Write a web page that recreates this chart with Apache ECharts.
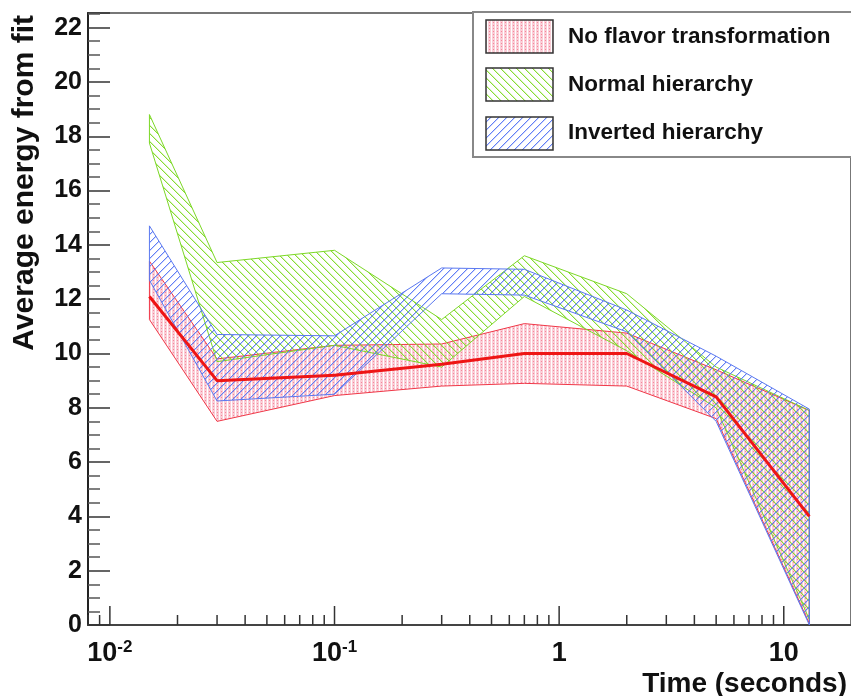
<!DOCTYPE html>
<html><head><meta charset="utf-8">
<script src="https://cdn.jsdelivr.net/npm/echarts@6/dist/echarts.min.js"></script>
<style>html,body{margin:0;padding:0;background:#fff}#c{width:851px;height:696px}</style>
</head><body><div id="c"></div>
<script>
// ---- data ----
const times = [0.015, 0.03, 0.1, 0.3, 0.7, 2, 5, 13];
const noFlavorMean  = [12.1, 9.0, 9.2, 9.6, 10.0, 10.0, 8.4, 4.0];
const noFlavorUpper = [13.4, 9.8, 10.3, 10.35, 11.1, 10.75, 9.4, 7.9];
const noFlavorLower = [11.25, 7.5, 8.45, 8.8, 8.9, 8.8, 7.6, 0.05];
const normalUpper   = [18.8, 13.35, 13.8, 11.25, 13.6, 12.2, 9.5, 7.9];
const normalLower   = [17.75, 9.7, 10.3, 9.5, 12.1, 10.1, 8.0, 0.2];
const invertedUpper = [14.7, 10.7, 10.65, 13.15, 13.1, 11.6, 9.9, 7.95];
const invertedLower = [12.7, 8.25, 8.5, 12.2, 12.15, 10.8, 7.5, 0.0];
const legendNames = ['No flavor transformation', 'Normal hierarchy', 'Inverted hierarchy'];
const xMajorTicks = [0.01, 0.1, 1, 10];
const xMajorLabels = [['10', '-2'], ['10', '-1'], ['1', ''], ['10', '']];
const xMinorTicks = [0.008, 0.009, 0.02, 0.03, 0.04, 0.05, 0.06, 0.07, 0.08, 0.09,
  0.2, 0.3, 0.4, 0.5, 0.6, 0.7, 0.8, 0.9, 2, 3, 4, 5, 6, 7, 8, 9];
const xTitle = 'Time (seconds)';
const yTitle = 'Average energy from fit';

// ---- styles ----
const FONT = '"Liberation Sans", Arial, Helvetica, sans-serif';
function hatch(rgb, dir, size) {
  const c = document.createElement('canvas'); c.width = size; c.height = size;
  const g = c.getContext('2d');
  for (let i = 0; i < size; i++) {
    const x = dir === 'down' ? i : size - 1 - i;
    g.fillStyle = 'rgba(' + rgb + ',0.95)';
    g.fillRect(x, i, 1, 1);
    g.fillStyle = 'rgba(' + rgb + ',0.3)';
    g.fillRect((x + 1) % size, i, 1, 1);
  }
  return c;
}
function dotted() {
  const c = document.createElement('canvas'); c.width = 4; c.height = 3;
  const g = c.getContext('2d');
  g.fillStyle = 'rgba(248,165,182,0.55)'; g.fillRect(0, 0, 3, 3);
  g.fillStyle = 'rgba(240,90,115,0.6)'; g.fillRect(1, 1, 1, 1);
  return c;
}
const redPat = dotted();
const greenPat = hatch('130,218,40', 'down', 8);
const bluePat = hatch('88,120,246', 'up', 8);
const pat = (img) => ({ image: img, repeat: 'repeat' });

function band(name, upper, lower, img, stroke, z) {
  return {
    type: 'custom', name: name, z: z, silent: true, animation: false,
    coordinateSystem: 'cartesian2d',
    data: [[times[0], upper[0]]],
    renderItem: function (params, api) {
      const pts = [];
      for (let i = 0; i < times.length; i++) pts.push(api.coord([times[i], upper[i]]));
      for (let i = times.length - 1; i >= 0; i--) pts.push(api.coord([times[i], lower[i]]));
      return { type: 'polygon', shape: { points: pts },
        style: { fill: pat(img), stroke: stroke, lineWidth: 1 } };
    }
  };
}

const tickData = xMinorTicks.map(v => [v, 0, 0]).concat(xMajorTicks.map(v => [v, 0, 1]));

const chart = echarts.init(document.getElementById('c'), null, { renderer: 'canvas' });
chart.setOption({
  animation: false,
  backgroundColor: '#fff',
  grid: { left: 88, right: -3, top: 13, bottom: 71, show: true, borderColor: '#777', borderWidth: 2, backgroundColor: 'transparent' },
  xAxis: {
    type: 'log', logBase: 10, min: 0.007991, max: 19.92,
    axisLine: { lineStyle: { color: '#444', width: 2 } },
    axisTick: { show: false }, minorTick: { show: false },
    splitLine: { show: false }, minorSplitLine: { show: false },
    axisLabel: {
      margin: 14, showMinLabel: false, showMaxLabel: false,
      formatter: function (v) {
        for (let i = 0; i < xMajorTicks.length; i++) {
          if (Math.abs(Math.log10(v) - Math.log10(xMajorTicks[i])) < 1e-6) {
            const l = xMajorLabels[i];
            return l[1] ? '{b|' + l[0] + '}{s|' + l[1] + '}' : '{b|' + l[0] + '}';
          }
        }
        return '';
      },
      rich: {
        b: { fontSize: 27, fontWeight: 'bold', fontFamily: FONT, color: '#111', lineHeight: 30 },
        s: { fontSize: 17, fontWeight: 'bold', fontFamily: FONT, color: '#111', lineHeight: 17, verticalAlign: 'top' }
      }
    }
  },
  yAxis: {
    type: 'value', min: 0, max: 22.54, interval: 2,
    axisLine: { show: true, lineStyle: { color: '#222', width: 2 } },
    axisTick: { show: true, inside: true, length: 22, lineStyle: { color: '#333', width: 1.5 } },
    minorTick: { show: true, splitNumber: 4, length: 12, lineStyle: { color: '#555', width: 1.5 } },
    splitLine: { show: false },
    axisLabel: {
      margin: 6, showMaxLabel: false, fontSize: 25, fontWeight: 'bold', fontFamily: FONT, color: '#111',
      formatter: function (v) {
        const r = Math.round(v);
        return (Math.abs(v - r) < 1e-6 && r % 2 === 0) ? String(r) : '';
      }
    }
  },
  series: [
    band(legendNames[0], noFlavorUpper, noFlavorLower, redPat, '#f03848', 2),
    band(legendNames[1], normalUpper, normalLower, greenPat, '#7cd826', 3),
    band(legendNames[2], invertedUpper, invertedLower, bluePat, '#5a78f0', 4),
    {
      type: 'line', name: 'mean', z: 6, silent: true, animation: false,
      data: times.map((t, i) => [t, noFlavorMean[i]]),
      showSymbol: false, symbol: 'none',
      lineStyle: { color: '#ee1515', width: 3 }
    },
    {
      type: 'custom', name: 'xticks', z: 7, silent: true, animation: false,
      coordinateSystem: 'cartesian2d', clip: false,
      data: tickData,
      renderItem: function (params, api) {
        const p = api.coord([api.value(0), 0]);
        const len = api.value(2) ? 19 : 10;
        return { type: 'line', shape: { x1: p[0], y1: p[1], x2: p[0], y2: p[1] - len },
          style: { stroke: '#333', lineWidth: 1.5 } };
      }
    }
  ],
  graphic: [
    { type: 'text', x: 25, y: 15, rotation: Math.PI / 2, z: 100,
      style: { text: yTitle, align: 'right', verticalAlign: 'middle',
        font: 'bold 30px ' + FONT, fill: '#111' } },
    { type: 'text', x: 847, y: 698, z: 100,
      style: { text: xTitle, align: 'right', verticalAlign: 'bottom',
        font: 'bold 28px ' + FONT, fill: '#111' } },
    { type: 'rect', z: 100, shape: { x: 473, y: 12, width: 390, height: 145 },
      style: { fill: '#fff', stroke: '#888', lineWidth: 2 } },
    { type: 'rect', z: 101, shape: { x: 486, y: 20, width: 67, height: 33 },
      style: { fill: pat(redPat), stroke: '#333', lineWidth: 1.5 } },
    { type: 'rect', z: 101, shape: { x: 486, y: 68, width: 67, height: 33 },
      style: { fill: pat(greenPat), stroke: '#333', lineWidth: 1.5 } },
    { type: 'rect', z: 101, shape: { x: 486, y: 117, width: 67, height: 33 },
      style: { fill: pat(bluePat), stroke: '#333', lineWidth: 1.5 } },
    { type: 'text', x: 568, y: 37, z: 101,
      style: { text: legendNames[0], verticalAlign: 'middle', font: 'bold 22.5px ' + FONT, fill: '#111' } },
    { type: 'text', x: 568, y: 85, z: 101,
      style: { text: legendNames[1], verticalAlign: 'middle', font: 'bold 22.5px ' + FONT, fill: '#111' } },
    { type: 'text', x: 568, y: 133, z: 101,
      style: { text: legendNames[2], verticalAlign: 'middle', font: 'bold 22.5px ' + FONT, fill: '#111' } }
  ]
});
</script></body></html>
